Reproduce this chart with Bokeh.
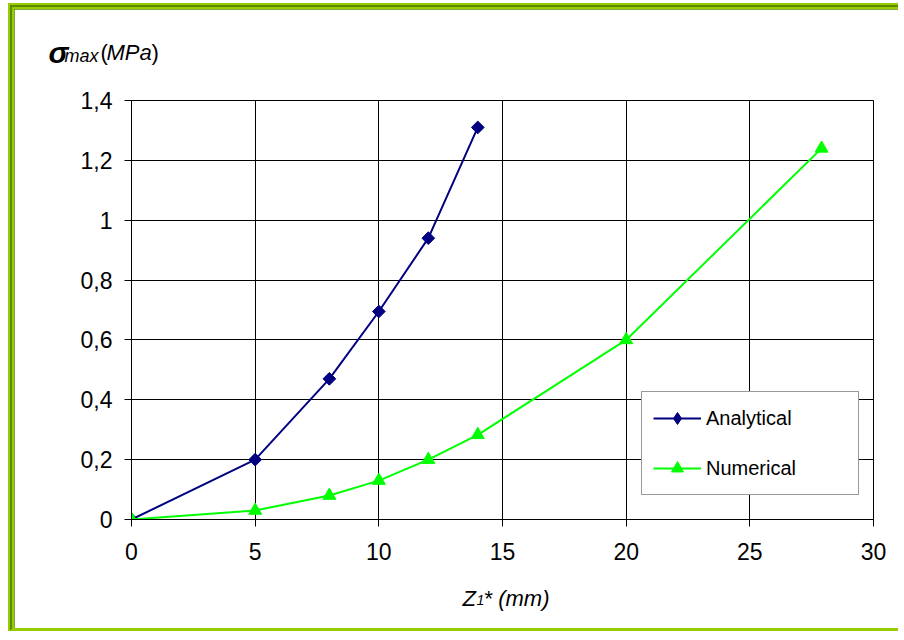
import math
from bokeh.plotting import figure
from bokeh.models import FixedTicker, Label, Legend, LegendItem
from bokeh.embed import file_html
from bokeh.resources import INLINE

# ---- data ----
analytical_x = [0, 5, 8, 10, 12, 14]
analytical_y = [0, 0.20, 0.47, 0.695, 0.94, 1.31]
numerical_x = [0, 5, 8, 10, 12, 14, 20, 27.9]
numerical_y = [0, 0.03, 0.08, 0.13, 0.20, 0.283, 0.60, 1.24]
x_ticks = [0, 5, 10, 15, 20, 25, 30]
y_ticks = [0, 0.2, 0.4, 0.6, 0.8, 1.0, 1.2, 1.4]
y_tick_labels = ["0", "0,2", "0,4", "0,6", "0,8", "1", "1,2", "1,4"]
series_names = ["Analytical", "Numerical"]

FONT = "Liberation Sans"
NAVY = "#000080"
LIME = "#00FF00"

p = figure(width=890, height=628, x_range=(0, 30), y_range=(0, 1.4),
           output_backend="svg", toolbar_location=None,
           min_border_left=117, min_border_right=31,
           min_border_top=91, min_border_bottom=118)
p.styles = {"margin-left": "8px", "margin-top": "3px",
            "border-left": "6px double #99cc00",
            "border-top": "6px double #99cc00",
            "border-bottom": "3px solid #99cc00",
            "background-color": "#5a8a00"}

p.background_fill_color = "white"
p.border_fill_color = "white"
p.outline_line_color = "black"

# axes
p.xaxis.ticker = FixedTicker(ticks=x_ticks)
p.yaxis.ticker = FixedTicker(ticks=y_ticks)
p.yaxis.major_label_overrides = dict(zip(y_ticks, y_tick_labels))
for ax in (p.xaxis, p.yaxis):
    ax.major_label_text_font = FONT
    ax.major_label_text_font_size = "23px"
    ax.major_label_text_color = "black"
    ax.axis_line_color = "black"
    ax.major_tick_line_color = "black"
    ax.major_tick_out = 7
    ax.major_tick_in = 0
    ax.minor_tick_line_color = None
p.xaxis.major_label_standoff = 16
p.yaxis.major_label_standoff = 12

p.xgrid.grid_line_color = "black"
p.ygrid.grid_line_color = "black"
p.xgrid.grid_line_width = 1
p.ygrid.grid_line_width = 1

# series
a_line = p.line(analytical_x, analytical_y, line_color=NAVY, line_width=2)
a_pts = p.scatter(analytical_x, analytical_y, marker="square", size=9,
                  angle=math.pi / 4, fill_color=NAVY, line_color=NAVY)
n_line = p.line(numerical_x, numerical_y, line_color=LIME, line_width=2)
n_pts = p.scatter(numerical_x, numerical_y, marker="triangle", size=13,
                  fill_color=LIME, line_color=LIME)
# legend-only diamond key (NaN position: nothing drawn in the plot)
a_key = p.scatter(x=[float("nan")], y=[float("nan")], marker="diamond",
                  fill_color=NAVY, line_color=NAVY)

legend = Legend(items=[LegendItem(label=series_names[0], renderers=[a_line, a_key]),
                       LegendItem(label=series_names[1], renderers=[n_line, n_pts])],
                location=(510, 24))
legend.label_text_font = FONT
legend.label_text_font_size = "20px"
legend.label_text_color = "black"
legend.border_line_color = "#333333"
legend.border_line_width = 1
legend.background_fill_color = "white"
legend.background_fill_alpha = 1
legend.padding = 11
legend.spacing = 20
legend.glyph_width = 48
legend.glyph_height = 30
legend.label_height = 30
legend.label_standoff = 5
legend.label_width = 141
legend.margin = 0
p.add_layout(legend)


def lab(side, x, y, text, size, style="normal"):
    p.add_layout(Label(x=x, y=y, text=text, text_font=FONT, text_font_size=size,
                       text_font_style=style, text_color="black",
                       text_baseline="alphabetic", text_align="left"), side)


# y-axis title: sigma_max (MPa)
lab("above", -3.356, 1.56, "σ", "30px", "bold italic")
lab("above", -2.709, 1.55, "max", "18px", "italic")
lab("above", -1.011, 1.56, "MPa", "22px", "italic")
lab("right", -1.253, 1.56, "(", "22px")
lab("below", 0.809, 1.56, ")", "22px")

# x-axis title: Z1* (mm)
lab("right", 13.383, -0.263, "Z", "22px", "italic")
lab("right", 13.949, -0.27, "1", "14px", "italic")
lab("below", 14.232, -0.263, "* (mm)", "22px", "italic")

open("out.html", "w").write(file_html(p, INLINE))
